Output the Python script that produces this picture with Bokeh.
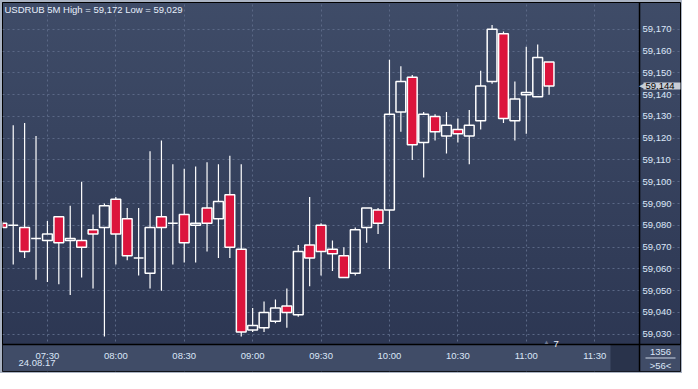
import pandas as pd
from bokeh.plotting import figure
from bokeh.models import (Range1d, NumeralTickFormatter, FixedTicker, Label, Span,
                          ColumnDataSource, DatetimeTickFormatter, BoxAnnotation)
from bokeh.embed import file_html
from bokeh.resources import INLINE

# ---------------- data ----------------
DAY = "2017-08-24"
times = ["07:10", "07:15", "07:20", "07:25", "07:30", "07:35", "07:40", "07:45", "07:50", "07:55",
         "08:00", "08:05", "08:10", "08:15", "08:20", "08:25", "08:30", "08:35", "08:40", "08:45",
         "08:50", "08:55", "09:00", "09:05", "09:10", "09:15", "09:20", "09:25", "09:30", "09:35",
         "09:40", "09:45", "09:50", "09:55", "10:00", "10:05", "10:10", "10:15", "10:20", "10:25",
         "10:30", "10:35", "10:40", "10:45", "10:50", "10:55", "11:00", "11:05", "11:10"]
opens = [59081, 59080, 59079, 59074, 59073, 59084, 59073, 59073, 59078, 59079,
         59092, 59083, 59065, 59058, 59084, 59081, 59085, 59080, 59088, 59083,
         59094, 59069, 59032, 59033, 59036, 59043, 59039, 59071, 59080, 59069,
         59066, 59058, 59079, 59087, 59087, 59132, 59148, 59118, 59130, 59121,
         59124, 59121, 59128, 59146, 59168, 59128, 59140, 59139, 59155]
highs = [59082, 59126, 59127, 59121, 59082, 59084, 59089, 59100, 59085, 59090,
         59093, 59088, 59088, 59114, 59119, 59108, 59106, 59107, 59109, 59108,
         59112, 59108, 59042, 59045, 59046, 59051, 59071, 59093, 59081, 59073,
         59070, 59079, 59088, 59088, 59156, 59153, 59149, 59132, 59131, 59132,
         59129, 59133, 59151, 59172, 59169, 59146, 59162, 59163, 59155]
lows = [59079, 59062, 59065, 59055, 59054, 59053, 59048, 59056, 59051, 59029,
        59062, 59064, 59057, 59051, 59050, 59062, 59063, 59063, 59068, 59065,
        59065, 59029, 59031, 59031, 59035, 59033, 59038, 59052, 59057, 59059,
        59056, 59057, 59072, 59076, 59060, 59123, 59110, 59102, 59119, 59113,
        59118, 59108, 59124, 59145, 59127, 59119, 59122, 59139, 59140]
closes = [59079, 59080, 59068, 59074, 59076, 59072, 59074, 59070, 59076, 59089,
          59076, 59066, 59065, 59079, 59079, 59081, 59072, 59081, 59081, 59091,
          59070, 59031, 59034, 59040, 59042, 59040, 59068, 59065, 59068, 59067,
          59056, 59078, 59088, 59081, 59131, 59146, 59117, 59131, 59123, 59126,
          59122, 59126, 59144, 59170, 59129, 59138, 59141, 59157, 59144]

x_tick_labels = ["07:30", "08:00", "08:30", "09:00", "09:30", "10:00", "10:30", "11:00", "11:30"]
y_ticks = [59030, 59040, 59050, 59060, 59070, 59080, 59090, 59100,
           59110, 59120, 59130, 59140, 59150, 59160, 59170]
view_start, view_end = "07:10:18", "11:49:40"
y_low, y_high = 59025.3, 59182.3
title_text = "USDRUB 5M High = 59,172 Low = 59,029"
last_price = 59144
last_price_text = "59,144"
date_text = "24.08.17"
marker_text = "7"
corner_top = "1356"
corner_bottom = ">56<"

# ---------------- layout ----------------
W, H = 682, 373
B = 2                           # light outer border
FW, FH = W - 2 * B, H - 2 * B   # Bokeh frame = whole inner canvas
PW = FW - 41                    # price-plot area width (right price scale is 41 px)
PH = FH - 27                    # price-plot area height (bottom time strip is 27 px)

t0 = pd.Timestamp(f"{DAY} {view_start}")
t1 = pd.Timestamp(f"{DAY} {view_end}")
x_full_end = t0 + (t1 - t0) * (FW / PW)
y_full_low = y_high - (y_high - y_low) * (FH / PH)

df = pd.DataFrame(dict(t=pd.to_datetime([f"{DAY} {t}" for t in times]),
                       open=opens, high=highs, low=lows, close=closes))
df["top"] = df[["open", "close"]].max(axis=1)
df["bottom"] = df[["open", "close"]].min(axis=1)
src_all = ColumnDataSource(df)
src_up = ColumnDataSource(df[df.close >= df.open])
src_down = ColumnDataSource(df[df.close < df.open])

TEXT = "#dbe6f8"
FONT = "Liberation Sans"
FS = "9.5px"

p = figure(width=W, height=H, x_axis_type="datetime", y_axis_location="right",
           output_backend="svg", toolbar_location=None,
           min_border_left=B, min_border_top=B, min_border_right=B, min_border_bottom=B,
           x_range=Range1d(t0, x_full_end), y_range=Range1d(y_full_low, y_high),
           background_fill_alpha=0, border_fill_alpha=0,
           outline_line_color="black", outline_line_width=1,
           styles={"background": "linear-gradient(to bottom, #3f4c68 0%, #2b3551 100%)",
                   "box-shadow": "inset 0 0 0 2px #aab3c3"})

tick_ms = [pd.Timestamp(f"{DAY} {s}").value // 10**6 for s in x_tick_labels]
p.xaxis.ticker = FixedTicker(ticks=tick_ms)
p.xaxis.formatter = DatetimeTickFormatter(minutes="%H:%M", hourmin="%H:%M", hours="%H:%M",
                                          minsec="%H:%M", days="%H:%M")
p.yaxis.ticker = FixedTicker(ticks=y_ticks)
p.yaxis.formatter = NumeralTickFormatter(format="0,0")
for ax in (p.xaxis[0], p.yaxis[0]):
    ax.axis_line_color = None
    ax.major_tick_line_color = None
    ax.minor_tick_line_color = None
    ax.major_tick_out = 0
    ax.major_tick_in = 0
    ax.major_label_text_color = TEXT
    ax.major_label_text_font = FONT
    ax.major_label_text_font_size = FS
# draw the scale labels inside the strip / price scale areas of the frame
p.xaxis.major_label_standoff = -(FH - PH - 5)
p.yaxis.major_label_standoff = -(FW - PW - 3)

for g in (p.xgrid[0], p.ygrid[0]):
    g.grid_line_color = "#5b6886"
    g.grid_line_dash = "2 3"
    g.grid_line_width = 1
p.xgrid.bounds = (y_low, y_high)
p.ygrid.bounds = (t0.value // 10**6, t1.value // 10**6)

def sbox(left, right, bottom, top, color, level="underlay"):
    p.add_layout(BoxAnnotation(left=left, right=right, bottom=bottom, top=top,
                               left_units="screen", right_units="screen",
                               bottom_units="screen", top_units="screen",
                               fill_color=color, fill_alpha=1, line_color=None, level=level))

strip = FH - PH
# time strip, dark cell at its right end
sbox(0, FW, 0, strip, "#404c67")
sbox(PW - 29, PW, 0, strip, "#29334b")
# black separators of the price area
p.add_layout(Span(location=t1, dimension="height", line_color="black", line_width=1.5))
p.add_layout(Span(location=y_low, dimension="width", line_color="black", line_width=1.5))

# candles
BODY_W = 257000
p.segment(x0="t", y0="top", x1="t", y1="high", source=src_all, line_color="white", line_width=1.2)
p.segment(x0="t", y0="low", x1="t", y1="bottom", source=src_all, line_color="white", line_width=1.2)
p.vbar(x="t", width=BODY_W, top="top", bottom="bottom", source=src_up,
       fill_alpha=0, line_color="white", line_width=1.5)
p.vbar(x="t", width=BODY_W, top="top", bottom="bottom", source=src_down,
       fill_color="#dc143c", line_color="white", line_width=1.5)

# texts
def lab(**kw):
    base = dict(x_units="screen", y_units="screen", text_font=FONT, text_font_size=FS,
                text_color=TEXT)
    base.update(kw)
    lb = Label(**base)
    p.add_layout(lb)
    return lb

lab(x=2, y=FH - 1, text=title_text, text_baseline="top", text_color="#e8effc")
lab(x=16, y=strip - 15, text=date_text, text_baseline="top")
lab(x=544, y=strip, text="\u25b2", text_baseline="bottom", text_align="center",
    text_font_size="6px", text_color="#6b7690")
lab(x=551, y=strip + 1, text=marker_text, text_baseline="alphabetic", text_color="#f0f4fb")
lab(x=PW + 21, y=strip - 4, text=corner_top, text_baseline="top", text_align="center")
lab(x=PW + 21, y=strip - 15, text=corner_bottom, text_baseline="top", text_align="center")
sbox(PW + 6, PW + 36, strip - 14, strip - 13, "#c9d3e3", level="annotation")

# last-price marker on the price scale
PRICE_BG = "#c8cdd6"
price_kw = dict(x=PW + 4, y=last_price, y_units="data", text=last_price_text,
                text_baseline="middle", text_color="black",
                background_fill_color=PRICE_BG, background_fill_alpha=1)
made = False
for pad in (dict(left=2, right=12, top=1, bottom=0), (1, 12, 0, 2), (1, 7), 2):
    try:
        lab(padding=pad, **price_kw)
        made = True
        break
    except Exception:
        continue
if not made:
    price_kw["text"] = " " + last_price_text + "     "
    lab(**price_kw)
lab(x=PW + 4, y=last_price, y_units="data", text="\u25c0", text_baseline="middle",
    text_align="right", text_font_size="7px", text_color=PRICE_BG)

open("out.html", "w").write(file_html(p, INLINE))
